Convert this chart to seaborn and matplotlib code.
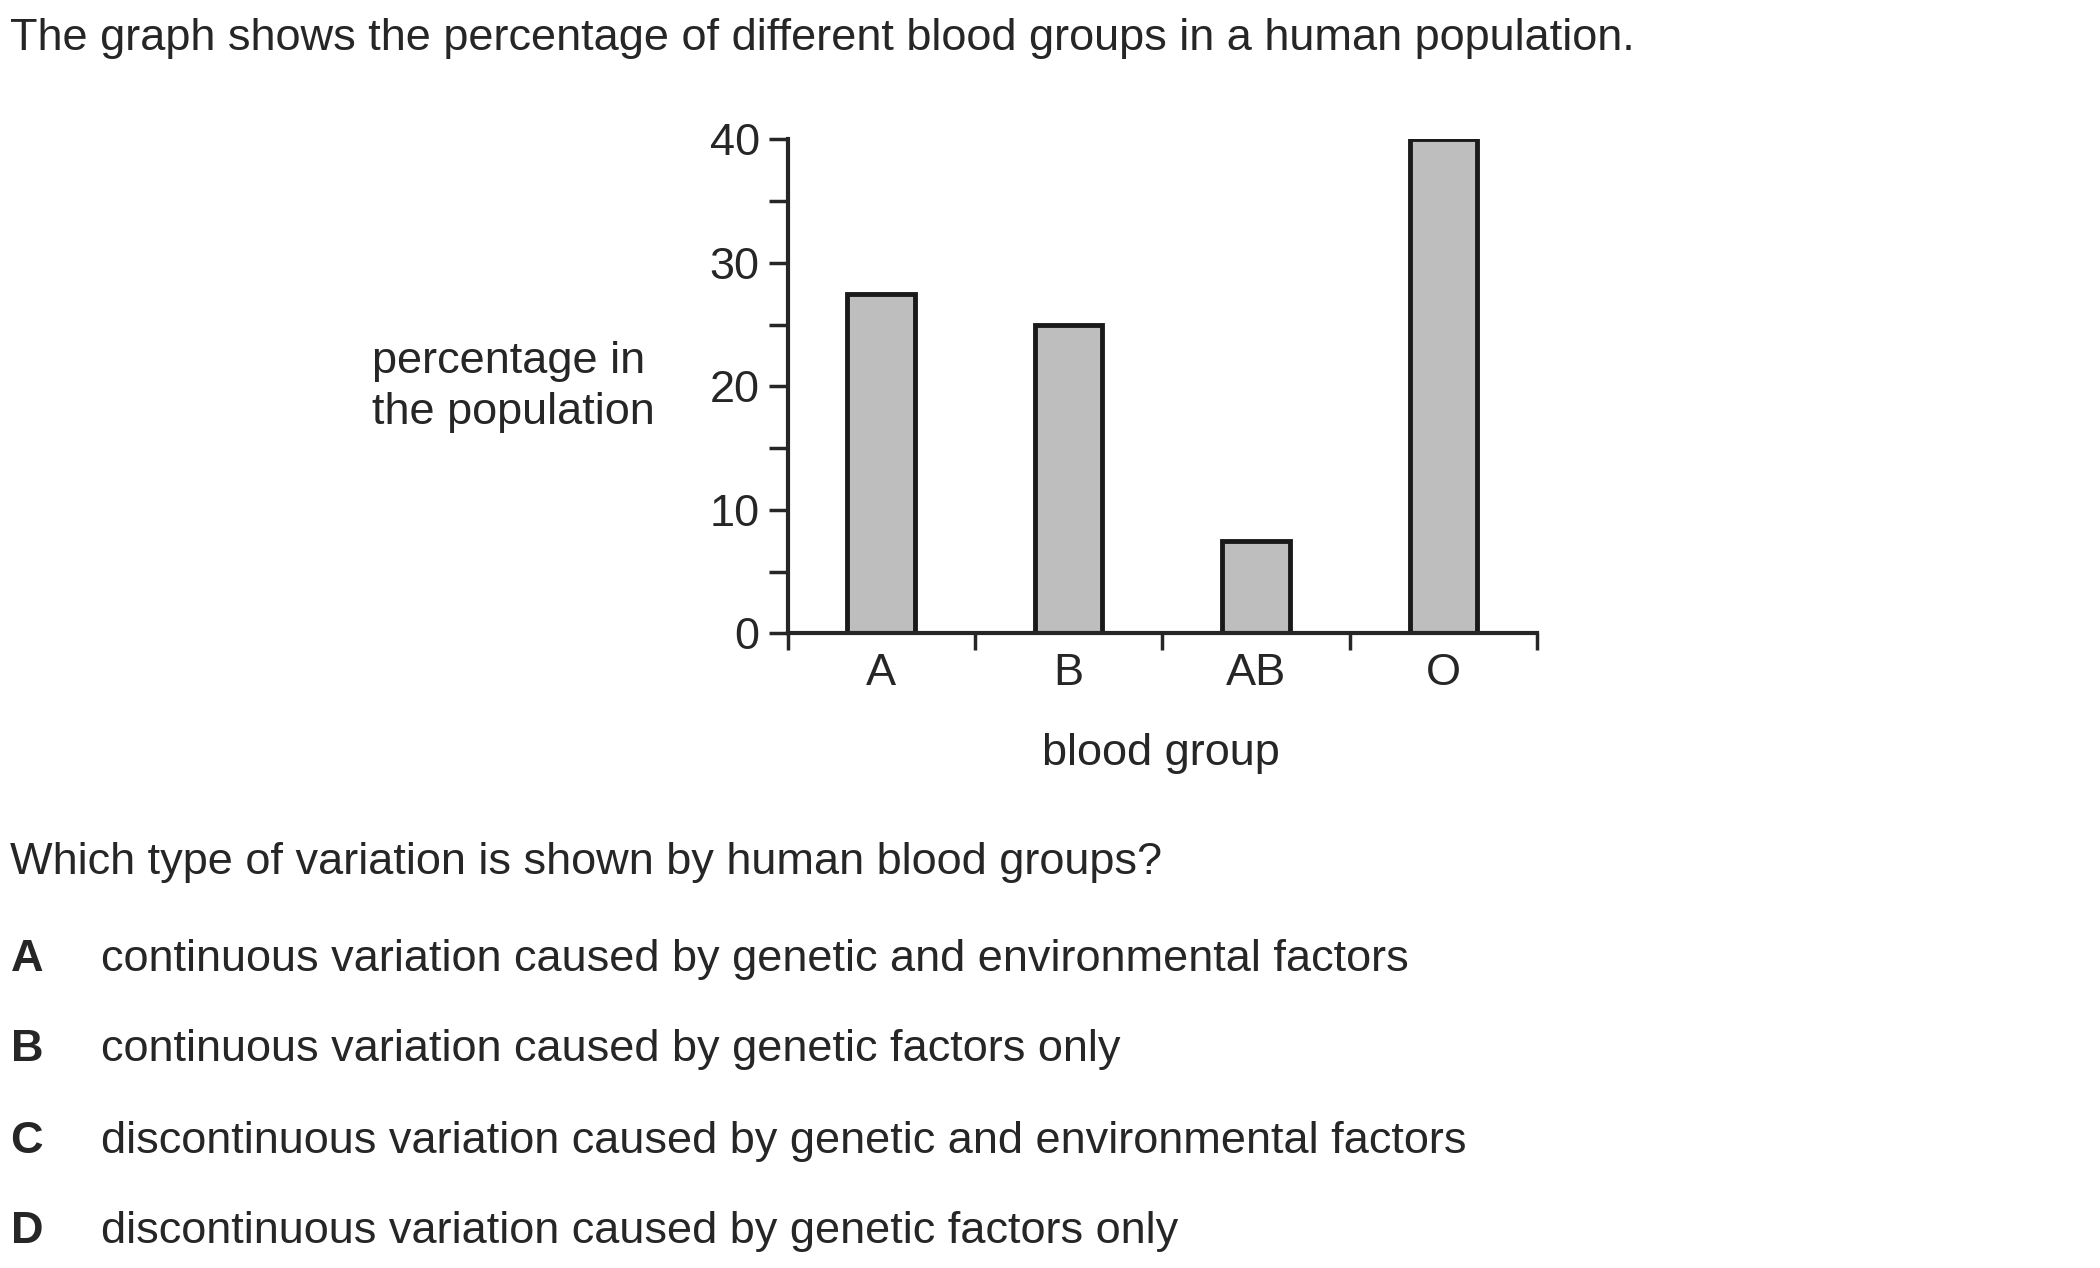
import matplotlib
matplotlib.use("Agg")
import matplotlib.pyplot as plt
import seaborn as sns
import pandas as pd

groups = ["A", "B", "AB", "O"]
percent = [27.5, 25, 7.5, 40]
y_ticks = [0, 10, 20, 30, 40]

sns.set_style("ticks")
plt.rcParams["font.family"] = ["Liberation Sans", "DejaVu Sans"]
fs = 32.5

fig = plt.figure(figsize=(21, 12.68), dpi=100)
ax = fig.add_axes([0.375, 0.5005, 0.357, 0.3895])

df = pd.DataFrame({"group": groups, "percent": percent})
sns.barplot(data=df, x="group", y="percent", color="#bebebe", saturation=1,
            edgecolor="#1a1a1a", linewidth=3.5, width=0.36, ax=ax)

ax.set_xlim(-0.5, 3.5)
ax.set_ylim(0, 40)
ax.set_yticks(y_ticks)
ax.set_yticks([5, 15, 25, 35], minor=True)
ax.set_xticks(range(len(groups)))
ax.set_xticks([-0.5, 0.5, 1.5, 2.5, 3.5], minor=True)
ax.set_xticklabels(groups)
ax.tick_params(axis="x", which="major", length=0, pad=14, labelsize=fs)
ax.tick_params(axis="x", which="minor", direction="out", length=12, width=2.5, bottom=True)
ax.tick_params(axis="y", which="both", length=14, width=2.5, labelsize=fs, pad=6)
ax.set_xlabel("")
ax.set_ylabel("")
for s in ["top", "right"]:
    ax.spines[s].set_visible(False)
for s in ["left", "bottom"]:
    ax.spines[s].set_linewidth(3)

fig.text(0.005, 0.970, "The graph shows the percentage of different blood groups in a human population.",
         fontsize=fs, va="center")
fig.text(0.177, 0.695, "percentage in\nthe population", fontsize=fs, va="center",
         ha="left", linespacing=1.3)
fig.text(0.553, 0.406, "blood group", fontsize=fs, va="center", ha="center")
fig.text(0.005, 0.320, "Which type of variation is shown by human blood groups?",
         fontsize=fs, va="center")

letters = ["A", "B", "C", "D"]
options = ["continuous variation caused by genetic and environmental factors",
           "continuous variation caused by genetic factors only",
           "discontinuous variation caused by genetic and environmental factors",
           "discontinuous variation caused by genetic factors only"]
ys = [0.243, 0.172, 0.100, 0.029]
for l, o, y in zip(letters, options, ys):
    fig.text(0.005, y, l, fontsize=fs, fontweight="bold", va="center")
    fig.text(0.048, y, o, fontsize=fs, va="center")

fig.savefig("out.png", dpi=100, facecolor="white")
